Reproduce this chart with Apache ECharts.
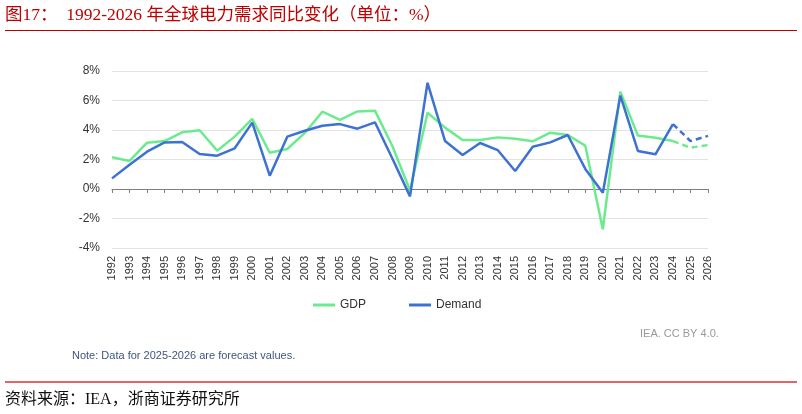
<!DOCTYPE html>
<html>
<head>
<meta charset="utf-8">
<script src="https://cdn.jsdelivr.net/npm/echarts@6/dist/echarts.min.js"></script>
<style>
html, body { margin: 0; padding: 0; background: #fff; }
#main { width: 802px; height: 414px; }
</style>
</head>
<body>
<div id="main"></div>
<script>
// 数据 ------------------
var years = ['1992','1993','1994','1995','1996','1997','1998','1999','2000','2001',
             '2002','2003','2004','2005','2006','2007','2008','2009','2010','2011',
             '2012','2013','2014','2015','2016','2017','2018','2019','2020','2021',
             '2022','2023','2024','2025','2026'];
var gdpGrowth = [2.15, 1.9, 3.14, 3.25, 3.84, 3.98, 2.6, 3.55, 4.75, 2.46,
                 2.71, 3.8, 5.24, 4.68, 5.26, 5.31, 2.9, -0.1, 5.17, 4.16,
                 3.32, 3.32, 3.5, 3.41, 3.23, 3.82, 3.66, 2.94, -2.73, 6.6,
                 3.62, 3.48, 3.25, 2.8, 2.98];
var demandGrowth = [0.72, 1.65, 2.53, 3.16, 3.19, 2.37, 2.26, 2.76, 4.5, 0.9,
                    3.55, 3.95, 4.29, 4.4, 4.09, 4.52, 2.05, -0.5, 7.2, 3.25,
                    2.3, 3.12, 2.64, 1.22, 2.87, 3.16, 3.66, 1.36, -0.25, 6.33,
                    2.58, 2.35, 4.4, 3.25, 3.6];
var yTicks = [-4, -2, 0, 2, 4, 6, 8];
var forecastFrom = '2024';   // 虚线从这一年开始

var fIdx = years.indexOf(forecastFrom);
function splitActual(arr) {
    return arr.map(function (v, i) { return i <= fIdx ? v : null; });
}
function splitForecast(arr) {
    return arr.map(function (v, i) { return i >= fIdx ? v : null; });
}

var GREEN = '#6BEB8E';
var BLUE = '#3E72D2';

var myChart = echarts.init(document.getElementById('main'));

option = {
    backgroundColor: '#fff',
    animation: false,
    grid: { left: 112, right: 94, top: 71, bottom: 166 },
    legend: {
        data: ['GDP', 'Demand'],
        left: 313,
        top: 299,
        padding: 0,
        icon: 'rect',
        itemWidth: 22,
        itemHeight: 3,
        itemGap: 43,
        textStyle: { fontFamily: 'Liberation Sans, Arial', fontSize: 12, color: '#333' }
    },
    xAxis: [
        {
            type: 'category',
            data: years,
            boundaryGap: false,
            position: 'bottom',
            axisLine: { show: false, onZero: false },
            axisTick: { show: false },
            axisLabel: {
                rotate: 90,
                interval: 0,
                margin: 8,
                fontFamily: 'Liberation Sans, Arial',
                fontSize: 11,
                color: '#333'
            }
        },
        {
            type: 'category',
            data: years,
            boundaryGap: false,
            position: 'top',
            axisLine: { show: true, onZero: true, lineStyle: { color: '#7f7f7f', width: 1 } },
            axisTick: { show: true, inside: true, length: 4, interval: 0, lineStyle: { color: '#7f7f7f' } },
            axisLabel: { show: false }
        }
    ],
    yAxis: {
        type: 'value',
        min: yTicks[0],
        max: yTicks[yTicks.length - 1],
        interval: 2,
        axisLine: { show: false },
        axisTick: { show: false },
        splitLine: { lineStyle: { color: '#e3e3e3', width: 1 } },
        axisLabel: {
            formatter: '{value}%',
            margin: 12,
            fontFamily: 'Liberation Sans, Arial',
            fontSize: 12,
            color: '#333'
        }
    },
    series: [
        {
            name: 'GDP', type: 'line', data: splitActual(gdpGrowth),
            showSymbol: false, symbol: 'none', color: GREEN,
            lineStyle: { color: GREEN, width: 2.5 }, z: 2
        },
        {
            name: 'Demand', type: 'line', data: splitActual(demandGrowth),
            showSymbol: false, symbol: 'none', color: BLUE,
            lineStyle: { color: BLUE, width: 2.5 }, z: 3
        },
        {
            name: 'GDP forecast', type: 'line', data: splitForecast(gdpGrowth),
            showSymbol: false, symbol: 'none', color: GREEN,
            lineStyle: { color: GREEN, width: 2.5, type: [6, 4] }, z: 2
        },
        {
            name: 'Demand forecast', type: 'line', data: splitForecast(demandGrowth),
            showSymbol: false, symbol: 'none', color: BLUE,
            lineStyle: { color: BLUE, width: 2.5, type: [6, 4] }, z: 3
        }
    ],
    graphic: [
        {
            type: 'text', left: 5, top: 7,
            style: {
                text: '图17：  1992-2026 年全球电力需求同比变化（单位：%）',
                fill: '#C00000',
                font: '17.5px "Liberation Serif", "Noto Sans CJK SC", serif'
            }
        },
        {
            type: 'rect', shape: { x: 5, y: 30, width: 792, height: 1 },
            style: { fill: '#C00000' }
        },
        {
            type: 'text', left: 640, top: 328,
            style: {
                text: 'IEA. CC BY 4.0.',
                fill: '#9a9a9a',
                font: '11px "Liberation Sans", Arial'
            }
        },
        {
            type: 'text', left: 72, top: 350,
            style: {
                text: 'Note: Data for 2025-2026 are forecast values.',
                fill: '#3F5680',
                font: '11px "Liberation Sans", Arial'
            }
        },
        {
            type: 'rect', shape: { x: 5, y: 381, width: 792, height: 2 },
            style: { fill: '#E06666' }
        },
        {
            type: 'text', left: 5, top: 392,
            style: {
                text: '资料来源：IEA，浙商证券研究所',
                fill: '#111',
                font: '16px "Liberation Serif", "Noto Sans CJK SC", serif'
            }
        }
    ]
};

myChart.setOption(option);
</script>
</body>
</html>
